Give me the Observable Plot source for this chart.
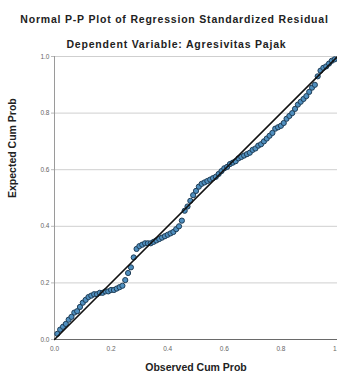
<!DOCTYPE html>
<html>
<head>
<meta charset="utf-8">
<script src="https://cdn.jsdelivr.net/npm/d3@7"></script>
<script src="https://cdn.jsdelivr.net/npm/@observablehq/plot@0.6"></script>
<style>
  html, body { margin: 0; padding: 0; background: #fff; }
  #wrap { position: relative; width: 337px; height: 376px; overflow: hidden; font-family: "Liberation Sans", Arial, sans-serif; }
  .t { position: absolute; left: 0; width: 337px; text-align: center; font-weight: bold; color: #222; letter-spacing: 0.8px; white-space: nowrap; }
</style>
</head>
<body>
<div id="wrap">
  <div class="t" id="title" style="top:13px;font-size:10.5px;left:6px;">Normal P-P Plot of Regression Standardized Residual</div>
  <div class="t" id="subtitle" style="top:38px;font-size:10.5px;left:8px;">Dependent Variable: Agresivitas Pajak</div>
  <div id="chart" style="position:absolute;left:0;top:50px;"></div>
</div>
<script>
const observed = [0.01,0.02,0.03,0.04,0.05,0.06,0.07,0.08,0.09,0.10,
  0.11,0.12,0.13,0.14,0.15,0.16,0.17,0.18,0.19,0.20,
  0.21,0.22,0.23,0.24,0.25,0.26,0.27,0.28,0.29,0.30,
  0.31,0.32,0.33,0.34,0.35,0.36,0.37,0.38,0.39,0.40,
  0.41,0.42,0.43,0.44,0.45,0.46,0.47,0.48,0.49,0.50,
  0.51,0.52,0.53,0.54,0.55,0.56,0.57,0.58,0.59,0.60,
  0.61,0.62,0.63,0.64,0.65,0.66,0.67,0.68,0.69,0.70,
  0.71,0.72,0.73,0.74,0.75,0.76,0.77,0.78,0.79,0.80,
  0.81,0.82,0.83,0.84,0.85,0.86,0.87,0.88,0.89,0.90,
  0.91,0.92,0.93,0.94,0.95,0.96,0.97,0.98,0.99];
const expected = [0.02,0.035,0.045,0.055,0.07,0.08,0.095,0.10,0.115,0.13,
  0.14,0.15,0.155,0.16,0.16,0.165,0.165,0.17,0.17,0.175,
  0.175,0.18,0.185,0.19,0.21,0.235,0.255,0.29,0.32,0.33,
  0.335,0.34,0.34,0.34,0.345,0.35,0.355,0.36,0.365,0.37,
  0.375,0.38,0.39,0.40,0.42,0.455,0.47,0.49,0.51,0.525,
  0.54,0.55,0.555,0.56,0.565,0.57,0.575,0.585,0.595,0.605,
  0.61,0.62,0.625,0.63,0.64,0.645,0.65,0.655,0.66,0.67,
  0.675,0.685,0.69,0.70,0.71,0.72,0.73,0.745,0.75,0.755,
  0.765,0.78,0.79,0.80,0.815,0.83,0.84,0.85,0.86,0.875,
  0.89,0.90,0.93,0.95,0.96,0.965,0.975,0.985,0.99];
const refLineX = [0, 1];
const refLineY = [0, 1];
const tickValues = [0, 0.2, 0.4, 0.6, 0.8, 1.0];
const gridValues = [0.2, 0.4, 0.6, 0.8, 1.0];
const xLabel = "Observed Cum Prob";
const yLabel = "Expected Cum Prob";

const points = observed.map((o, i) => ({o, e: expected[i]}));
const ref = refLineX.map((x, i) => ({x, y: refLineY[i]}));

const chart = Plot.plot({
  width: 337,
  height: 326,
  marginLeft: 54,
  marginRight: 0,
  marginTop: 6,
  marginBottom: 37,
  style: { fontFamily: "Liberation Sans, Arial, sans-serif", fontSize: "6.5px", color: "#555", background: "#fff" },
  x: { domain: [0, 1], ticks: tickValues, tickFormat: d3.format(".1f"), tickSize: 2, label: null },
  y: { domain: [0, 1], ticks: tickValues, tickFormat: d3.format(".1f"), tickSize: 2, label: null },
  marks: [
    Plot.ruleY(gridValues, {stroke: "#cfcfcf", strokeWidth: 1}),
    Plot.ruleX([0], {stroke: "#9a9a9a", strokeWidth: 1}),
    Plot.ruleY([0], {stroke: "#6a6a6a", strokeWidth: 1}),
    Plot.dot(points, {x: "o", y: "e", r: 2.6, fill: "#4f8fbf", stroke: "#1f3d56", strokeWidth: 1}),
    Plot.line(ref, {x: "x", y: "y", stroke: "#111", strokeWidth: 1.6}),
    Plot.axisX({ticks: tickValues, tickFormat: d3.format(".1f"), tickSize: 0, tickPadding: 7, label: null, fill: "#666"}),
    Plot.axisY({ticks: tickValues, tickFormat: d3.format(".1f"), tickSize: 3, tickPadding: 2, label: null, fill: "#666", stroke: "#bbb"}),
    Plot.text([xLabel], {frameAnchor: "bottom", dy: 31, fontWeight: "bold", fontSize: 10.5, fill: "#222", letterSpacing: "1.3px"}),
    Plot.text([yLabel], {frameAnchor: "left", dx: -42, rotate: -90, fontWeight: "bold", fontSize: 10.5, fill: "#222", letterSpacing: "1.3px"})
  ]
});
document.getElementById("chart").appendChild(chart);
</script>
</body>
</html>
